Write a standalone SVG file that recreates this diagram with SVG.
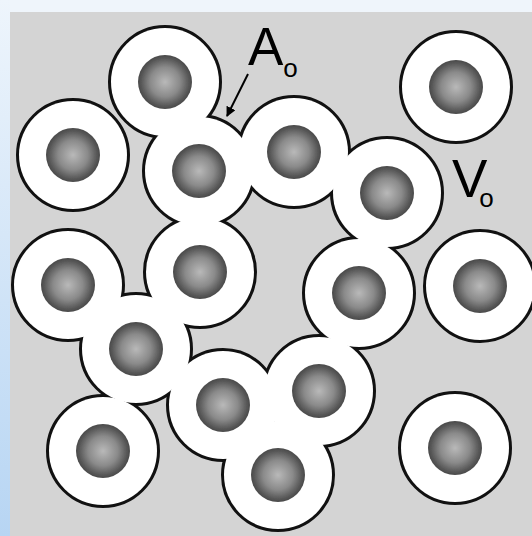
<svg xmlns="http://www.w3.org/2000/svg" xmlns:xlink="http://www.w3.org/1999/xlink" width="532" height="536" viewBox="0 0 532 536">
  <style>
    .label { font-family: "Liberation Sans", Arial, sans-serif; font-size: 53px; fill: #000; }
    .sub { font-size: 26px; }
    .core { fill: url(#sphere); filter: url(#soft); }
  </style>
  <defs>
    <linearGradient id="edge" x1="0" y1="0" x2="0" y2="1">
      <stop offset="0" stop-color="#eef5fc"/>
      <stop offset="1" stop-color="#b7d5f3"/>
    </linearGradient>
    <radialGradient id="sphere" cx="0.5" cy="0.5" r="0.5">
      <stop offset="0" stop-color="#b9b9b9"/>
      <stop offset="0.55" stop-color="#8a8a8a"/>
      <stop offset="0.9" stop-color="#555"/>
      <stop offset="1" stop-color="#4a4a4a"/>
    </radialGradient>
    <filter id="soft" x="-10%" y="-10%" width="120%" height="120%">
      <feGaussianBlur stdDeviation="0.7"/>
    </filter>
    <marker id="head" viewBox="0 0 10 10" refX="9" refY="5" markerWidth="5" markerHeight="5" orient="auto">
      <path d="M0,0 L10,5 L0,10 z" fill="#000"/>
    </marker>
    <!-- halo discs, shared by the outline and fill layers -->
    <g id="halos">
      <circle cx="165" cy="82" r="54"/>
      <circle cx="73" cy="155" r="54"/>
      <circle cx="199" cy="171" r="54"/>
      <circle cx="294" cy="152" r="54"/>
      <circle cx="387" cy="193" r="54"/>
      <circle cx="456" cy="87" r="54"/>
      <circle cx="68" cy="285" r="54"/>
      <circle cx="200" cy="272" r="54"/>
      <circle cx="136" cy="349" r="54"/>
      <circle cx="103" cy="451" r="54"/>
      <circle cx="223" cy="405" r="54"/>
      <circle cx="359" cy="293" r="54"/>
      <circle cx="480" cy="286" r="54"/>
      <circle cx="319" cy="391" r="54"/>
      <circle cx="278" cy="475" r="54"/>
      <circle cx="455" cy="448" r="54"/>
    </g>
  </defs>

  <!-- page edge and grey panel -->
  <rect x="0" y="0" width="532" height="536" fill="#eff5fb"/>
  <rect x="0" y="0" width="10" height="536" fill="url(#edge)"/>
  <rect x="10" y="12" width="522" height="524" fill="#d4d4d4"/>

  <!-- merged halos: widened dark layer, then white discs on top -->
  <use xlink:href="#halos" fill="#111" stroke="#111" stroke-width="6"/>
  <use xlink:href="#halos" fill="#fff"/>

  <!-- particle cores -->
  <g id="cores">
    <circle id="p1" class="core" cx="165" cy="82" r="27"/>
    <circle id="p2" class="core" cx="73" cy="155" r="27"/>
    <circle id="p3" class="core" cx="199" cy="171" r="27"/>
    <circle id="p4" class="core" cx="294" cy="152" r="27"/>
    <circle id="p5" class="core" cx="387" cy="193" r="27"/>
    <circle id="p6" class="core" cx="456" cy="87" r="27"/>
    <circle id="p7" class="core" cx="68" cy="285" r="27"/>
    <circle id="p8" class="core" cx="200" cy="272" r="27"/>
    <circle id="p9" class="core" cx="136" cy="349" r="27"/>
    <circle id="p10" class="core" cx="103" cy="451" r="27"/>
    <circle id="p11" class="core" cx="223" cy="405" r="27"/>
    <circle id="p12" class="core" cx="359" cy="293" r="27"/>
    <circle id="p13" class="core" cx="480" cy="286" r="27"/>
    <circle id="p14" class="core" cx="319" cy="391" r="27"/>
    <circle id="p15" class="core" cx="278" cy="475" r="27"/>
    <circle id="p16" class="core" cx="455" cy="448" r="27"/>
  </g>

  <!-- pointer to the contact area -->
  <g id="connectors">
    <line x1="248" y1="74" x2="227" y2="116" stroke="#000" stroke-width="2" marker-end="url(#head)"/>
  </g>

  <!-- labels -->
  <g id="label-A">
    <text class="label" x="248" y="65">A<tspan class="sub" dy="12">o</tspan></text>
  </g>
  <g id="label-V">
    <text class="label" x="452" y="197">V<tspan class="sub" dx="-8" dy="10">o</tspan></text>
  </g>
</svg>
